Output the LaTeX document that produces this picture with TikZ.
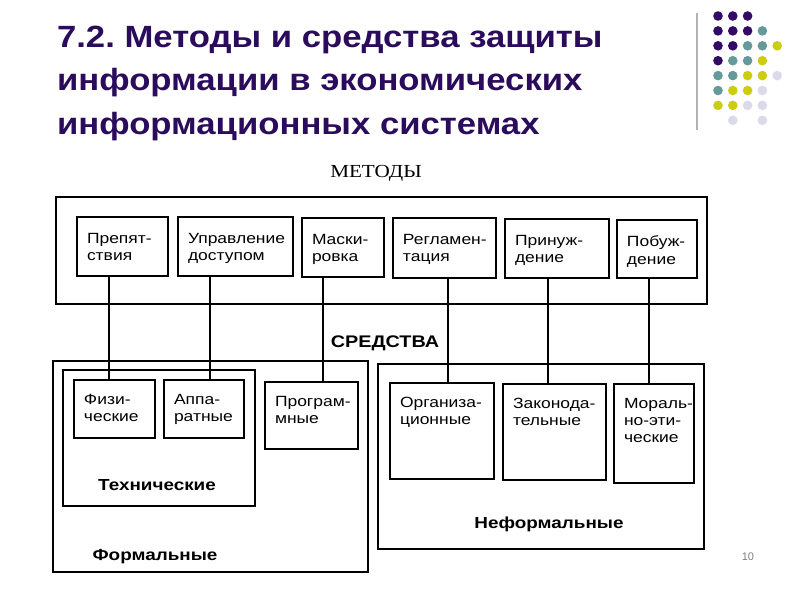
\documentclass[tikz,border=0pt]{standalone}
\usepackage{fontspec}
\setmainfont{Liberation Sans}
\newfontfamily\titlefont[FakeStretch=1.13]{Liberation Sans}
\newfontfamily\scanfont[FakeStretch=1.18]{Liberation Sans}
\newfontfamily\scanserif[FakeStretch=1.15]{Liberation Serif}
\frenchspacing
\definecolor{slidePurple}{RGB}{43,12,92}
\definecolor{dotP}{RGB}{51,10,102}
\definecolor{dotT}{RGB}{102,153,153}
\definecolor{dotY}{RGB}{204,204,17}
\definecolor{dotL}{RGB}{218,218,235}
\newlength{\px}\setlength{\px}{0.5pt}
% text of a box: width, height (in px), lines
\newcommand{\cellText}[4][7pt]{\parbox[t][#3\px][t]{#2\px}{\raggedright\leftskip=5pt\vspace*{#1}#4}}
\tikzset{
  cell/.style={draw, line width=1pt, inner sep=0pt, anchor=north west, font=\scanfont\fontsize{7.4}{8.6}\selectfont},
  frame/.style={draw, line width=1pt, inner sep=0pt, anchor=north west},
  group/.style={anchor=base, font=\scanfont\bfseries\fontsize{8}{9.6}\selectfont},
  link/.style={line width=0.8pt},
  heading/.style={anchor=base west, text=slidePurple, font=\titlefont\bfseries\fontsize{15.35}{18}\selectfont}
}

\begin{document}
\begin{tikzpicture}[x=0.5pt, y=-0.5pt]
	\fill[white] (0,0) rectangle (800,600);
	\useasboundingbox (0,0) rectangle (800,600);

	\node[heading] (title1) at (50,47) {7.2. Методы и средства защиты};
	\node[heading] (title2) at (50,90) {информации в экономических};
	\node[heading] (title3) at (50,134) {информационных системах};

	\draw[gray!60, line width=1pt] (697,13) -- (697,130);
	\foreach \r/\dotrow in {0/{0/dotP,1/dotP,2/dotP}, 1/{0/dotP,1/dotP,2/dotP,3/dotT},
			2/{0/dotP,1/dotP,2/dotT,3/dotT,4/dotY}, 3/{0/dotP,1/dotT,2/dotT,3/dotY},
			4/{0/dotT,1/dotT,2/dotY,3/dotY,4/dotL}, 5/{0/dotT,1/dotY,2/dotY,3/dotL},
			6/{0/dotY,1/dotY,2/dotL,3/dotL}, 7/{1/dotL,3/dotL}}
		\foreach \c/\k in \dotrow
			\fill[\k] (718+14.8*\c, 16+14.9*\r) circle[radius=2.4pt];

	% methods
	\node[anchor=base, font=\scanserif\fontsize{9.2}{11}\selectfont] (metodyLbl) at (376,177) {МЕТОДЫ};
	\node[frame, minimum width=325.5pt, minimum height=53.5pt] (metody) at (55,196) {};
	\node[cell] (prep) at (76,216) {\cellText[8pt]{91}{59}{Препят-\\ствия}};
	\node[cell] (upr) at (177,216) {\cellText[8pt]{115}{59}{Управление\\доступом}};
	\node[cell] (mask) at (301,217) {\cellText[8pt]{82}{59}{Маски-\\ровка}};
	\node[cell] (regl) at (392,217) {\cellText[8pt]{103}{60}{Регламен-\\тация}};
	\node[cell] (prin) at (504,218) {\cellText[8pt]{104}{59}{Принуж-\\дение}};
	\node[cell] (pobu) at (616,219) {\cellText[8pt]{80}{58}{Побуж-\\дение}};

	% means
	\node[group, font=\scanfont\bfseries\fontsize{8.4}{10}\selectfont] (sredLbl) at (385,347) {СРЕДСТВА};
	\node[frame, minimum width=157.5pt, minimum height=105.5pt] (formal) at (52,360) {};
	\node[frame, minimum width=96pt, minimum height=68pt] (tech) at (62,369) {};
	\node[cell] (fiz) at (73,379) {\cellText{81}{58}{Физи-\\ческие}};
	\node[cell] (app) at (163,379) {\cellText{80}{58}{Аппа-\\ратные}};
	\node[cell] (prog) at (264,381) {\cellText{93}{67}{Програм-\\мные}};
	\node[group] (techLbl) at (157,490) {Технические};
	\node[group] (formalLbl) at (155,560) {Формальные};

	\node[frame, minimum width=163pt, minimum height=92.5pt] (informal) at (377,363) {};
	\node[cell] (org) at (389,382) {\cellText{104}{96}{Организа-\\ционные}};
	\node[cell] (zak) at (502,383) {\cellText{103}{96}{Законода-\\тельные}};
	\node[cell] (mor) at (613,383) {\cellText{80}{99}{Мораль-\\но-эти-\\ческие}};
	\node[group] (informalLbl) at (549,528) {Неформальные};

	\draw[link] (prep.south -| 109,0) -- (fiz.north -| 109,0);
	\draw[link] (upr.south -| 210,0) -- (app.north -| 210,0);
	\draw[link] (mask.south -| 323,0) -- (prog.north -| 323,0);
	\draw[link] (regl.south -| 448,0) -- (org.north -| 448,0);
	\draw[link] (prin.south -| 548,0) -- (zak.north -| 548,0);
	\draw[link] (pobu.south -| 649,0) -- (mor.north -| 649,0);

	\node[font=\fontsize{5.5}{6}\selectfont, text=gray] (pageNum) at (748,557) {10};
\end{tikzpicture}
\end{document}
